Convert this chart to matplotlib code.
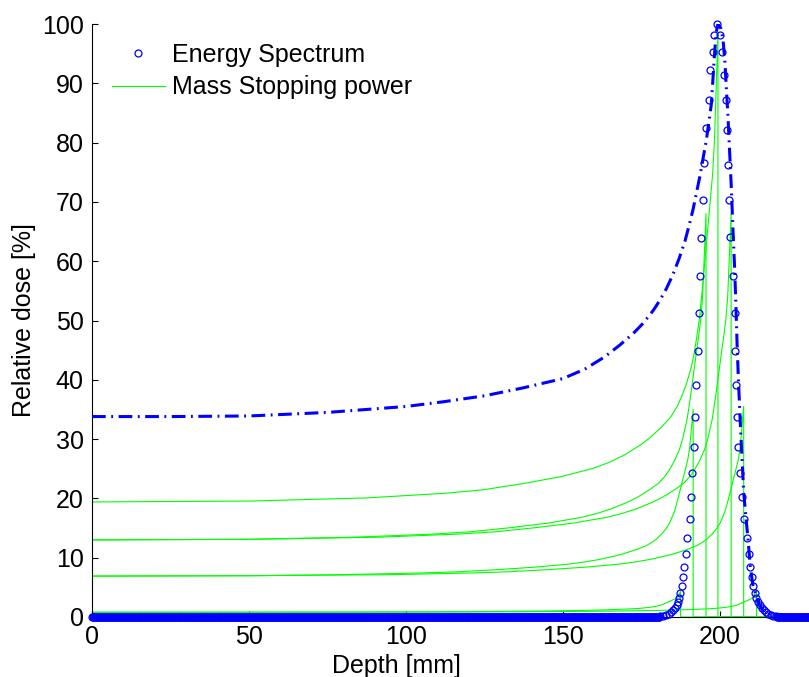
import numpy as np
import matplotlib
matplotlib.use("Agg")
import matplotlib.pyplot as plt

plt.rcParams["font.family"] = ["Liberation Sans", "DejaVu Sans"]

# Energy spectrum (circles), peak region; zero elsewhere
spec_depth = [181, 182, 183, 183.8, 184.5, 185.1, 185.7, 186.2, 186.7, 187.0,
              187.3, 188.0, 188.3, 188.6, 189.1, 189.6, 190.4, 190.8, 191.2, 191.7,
              192.1, 192.5, 193.0, 193.4, 193.7, 194.1, 194.5, 194.9, 195.7, 196.5,
              197.0, 197.7, 198.2, 199.1,
              199.9, 200.6, 201.4, 202.0, 202.3, 202.6, 203.0, 203.4, 204.2, 204.7,
              204.9, 205.2, 205.5, 205.8, 206.4, 207.0, 207.8, 208.5, 209.2, 209.7,
              210.2, 210.6, 211.1, 211.6, 212.2, 212.8, 213.4, 214.0, 214.7, 215.4,
              216.2, 217, 218]
spec_value = [0.1, 0.2, 0.35, 0.55, 0.8, 1.1, 1.5, 2.0, 2.6, 3.2,
              4.0, 5.2, 6.8, 8.5, 10.7, 13.4, 16.5, 20.2, 24.2, 28.7,
              33.8, 39.1, 44.9, 51.2, 57.5, 63.9, 70.3, 76.5, 82.4, 87.2,
              92.2, 95.3, 98.1, 100.0,
              98.1, 95.3, 91.4, 87.2, 82.1, 76.2, 70.3, 64.0, 57.5, 51.2,
              44.9, 39.1, 33.8, 28.7, 24.2, 20.2, 16.5, 13.4, 10.7, 8.5,
              6.8, 5.2, 4.0, 3.2, 2.6, 2.0, 1.5, 1.1, 0.8, 0.55,
              0.35, 0.2, 0.1]
zero_depth_left = np.arange(0, 181, 0.25)
zero_depth_right = np.arange(218.25, 230.25, 0.25)

# Total dose (dash-dot)
dose_depth = [0, 25, 50, 75, 100, 112, 125, 137, 150, 157, 163.4, 168, 172.4,
              175.5, 178.8, 181, 183, 185.1, 187, 188.9, 190.3,
              191.5, 193.6, 195.7, 197.3, 198.2, 198.8, 199.4, 200.3, 201.0, 201.6,
              202.1, 202.6, 203.2, 203.7, 204.2, 204.7, 205.1, 205.5, 206.0, 206.5,
              207.0, 207.6, 208.3, 209.0, 209.7, 210.5, 211.7, 212.7, 213.8, 215.9,
              218, 222, 230]
dose_value = [33.8, 33.8, 33.9, 34.5, 35.5, 36.3, 37.3, 38.6, 40.2, 41.8, 43.9, 45.8, 47.8,
              49.5, 51.7, 53.5, 55.4, 57.8, 60.4, 63.4, 66.2,
              68.8, 74.2, 80.4, 86.5, 94.0, 98.5, 100.0, 99.3, 97.5, 93.7,
              88.9, 84.4, 77.6, 72.0, 65.0, 59.0, 53.0, 46.0, 39.0, 33.0,
              27.5, 21.0, 16.9, 13.0, 8.5, 5.5, 3.4, 2.0, 1.2, 0.6,
              0.4, 0.3, 0.3]

# Mass stopping power curves, one per range: depth and value up to the peak
stop_depth = [
    [0, 50, 87.4, 112.4, 124.4, 137.4, 149.4, 154.4, 159.4, 164.4, 169.4, 174.4, 177.4,
     181.4, 184.4, 186.4, 187.9, 189.4, 190.9, 191.9, 193.4, 194.6, 195.9, 196.9,
     197.7, 198.3, 199.4],
    [0, 50, 83.6, 108.6, 120.6, 133.6, 145.6, 150.6, 155.6, 160.6, 165.6, 170.6, 173.6,
     177.6, 180.6, 182.6, 184.1, 185.6, 187.1, 188.1, 189.6, 190.8, 192.1, 193.1,
     193.9, 194.5, 195.6],
    [0, 50, 91.6, 116.6, 128.6, 141.6, 153.6, 158.6, 163.6, 168.6, 173.6, 178.6, 181.6,
     185.6, 188.6, 190.6, 192.1, 193.6, 195.1, 196.1, 197.6, 198.8, 200.1, 201.1,
     201.9, 202.5, 203.6],
    [0, 50, 79.5, 104.5, 116.5, 129.5, 141.5, 146.5, 151.5, 156.5, 161.5, 166.5, 169.5,
     173.5, 176.5, 178.5, 180, 181.5, 183, 184, 185.5, 186.7, 188, 189,
     189.8, 190.4, 191.5],
    [0, 50, 95.6, 120.6, 132.6, 145.6, 157.6, 162.6, 167.6, 172.6, 177.6, 182.6, 185.6,
     189.6, 192.6, 194.6, 196.1, 197.6, 199.1, 200.1, 201.6, 202.8, 204.1, 205.1,
     205.9, 206.5, 207.6],
    [0, 50, 75.5, 100.5, 112.5, 125.5, 137.5, 142.5, 147.5, 152.5, 157.5, 162.5, 165.5,
     169.5, 172.5, 174.5, 176, 177.5, 179, 180, 181.5, 182.7, 184, 185,
     185.8, 186.4, 187.5],
    [0, 50, 99.7, 124.7, 136.7, 149.7, 161.7, 166.7, 171.7, 176.7, 181.7, 186.7, 189.7,
     193.7, 196.7, 198.7, 200.2, 201.7, 203.2, 204.2, 205.7, 206.9, 208.2, 209.2,
     210, 210.6, 211.7],
]
stop_value = [
    [19.4, 19.55, 20.08, 20.86, 21.44, 22.5, 23.67, 24.35, 25.03, 26.0, 27.26, 28.91, 30.07,
     32.01, 33.76, 35.5, 37.25, 39.38, 42.1, 44.62, 49.86, 56.26, 64.02, 69.84,
     74.69, 80.51, 98.6],
    [13.0, 13.1, 13.46, 13.98, 14.37, 15.08, 15.86, 16.32, 16.77, 17.42, 18.27, 19.37, 20.15,
     21.45, 22.62, 23.79, 24.96, 26.39, 28.21, 29.9, 33.41, 37.7, 42.9, 46.8,
     50.05, 53.95, 68.0],
    [13.0, 13.1, 13.46, 13.98, 14.37, 15.08, 15.86, 16.32, 16.77, 17.42, 18.27, 19.37, 20.15,
     21.45, 22.62, 23.79, 24.96, 26.39, 28.21, 29.9, 33.41, 37.7, 42.9, 46.8,
     50.05, 53.95, 68.0],
    [6.9, 6.96, 7.14, 7.42, 7.62, 8.0, 8.42, 8.66, 8.9, 9.25, 9.69, 10.28, 10.7,
     11.39, 12.01, 12.63, 13.25, 14.01, 14.97, 15.87, 17.73, 20.01, 22.77, 24.84,
     26.57, 28.64, 35.0],
    [6.9, 6.96, 7.14, 7.42, 7.62, 8.0, 8.42, 8.66, 8.9, 9.25, 9.69, 10.28, 10.7,
     11.39, 12.01, 12.63, 13.25, 14.01, 14.97, 15.87, 17.73, 20.01, 22.77, 24.84,
     26.57, 28.64, 35.5],
    [0.8, 0.81, 0.83, 0.86, 0.88, 0.93, 0.98, 1.0, 1.03, 1.07, 1.12, 1.19, 1.24,
     1.32, 1.39, 1.46, 1.54, 1.62, 1.74, 1.84, 2.06, 2.32, 2.64, 2.88,
     3.08, 3.32, 4.3],
    [0.8, 0.81, 0.83, 0.86, 0.88, 0.93, 0.98, 1.0, 1.03, 1.07, 1.12, 1.19, 1.24,
     1.32, 1.39, 1.46, 1.54, 1.62, 1.74, 1.84, 2.06, 2.32, 2.64, 2.88,
     3.08, 3.32, 4.5],
]

x_max = 230
green = (0, 1, 0)
blue = (0, 0, 1)

fig = plt.figure(figsize=(8.09, 6.77), dpi=100)
ax = fig.add_axes([92 / 809, 60 / 677, 722 / 809, 593 / 677])

# green curves drop to zero at their range and stay there
for i, (d, v) in enumerate(zip(stop_depth, stop_value)):
    xs = list(d) + [d[-1], x_max]
    ys = list(v) + [0, 0]
    ax.plot(xs, ys, color=green, lw=0.8,
            label="Mass Stopping power" if i == 0 else None, zorder=2)

all_depth = np.concatenate([zero_depth_left, spec_depth, zero_depth_right])
all_value = np.concatenate([np.zeros(len(zero_depth_left)), spec_value,
                            np.zeros(len(zero_depth_right))])
ax.plot(all_depth, all_value, "o", mfc="none", mec=blue, ms=5, mew=0.9,
        label="Energy Spectrum", zorder=3, clip_on=False)

ax.plot(dose_depth, dose_value, color=blue, lw=2.2,
        linestyle=(0, (4.5, 1.8, 0.6, 1.8)), zorder=4)

ax.set_xlim(0, x_max)
ax.set_ylim(0, 100)
ax.set_xticks([0, 50, 100, 150, 200])
ax.set_yticks(np.arange(0, 101, 10))
ax.tick_params(direction="in", length=4, width=0.8, labelsize=18, pad=6)
for s in ["top", "right"]:
    ax.spines[s].set_visible(False)
for s in ["left", "bottom"]:
    ax.spines[s].set_linewidth(0.8)

ax.set_xlabel("Depth [mm]", fontsize=18)
ax.xaxis.set_label_coords(0.421, -0.062)
ax.set_ylabel("Relative dose [%]", fontsize=18)

handles, labels = ax.get_legend_handles_labels()
order = [labels.index("Energy Spectrum"), labels.index("Mass Stopping power")]
ax.legend([handles[k] for k in order], [labels[k] for k in order],
          loc="upper left", bbox_to_anchor=(112 / 809, 1 - 43 / 677),
          bbox_transform=fig.transFigure, frameon=False, fontsize=18,
          numpoints=1, handlelength=2.1, handletextpad=0.28,
          labelspacing=0.33, borderpad=0, borderaxespad=0)

fig.savefig("out.png", dpi=100)
